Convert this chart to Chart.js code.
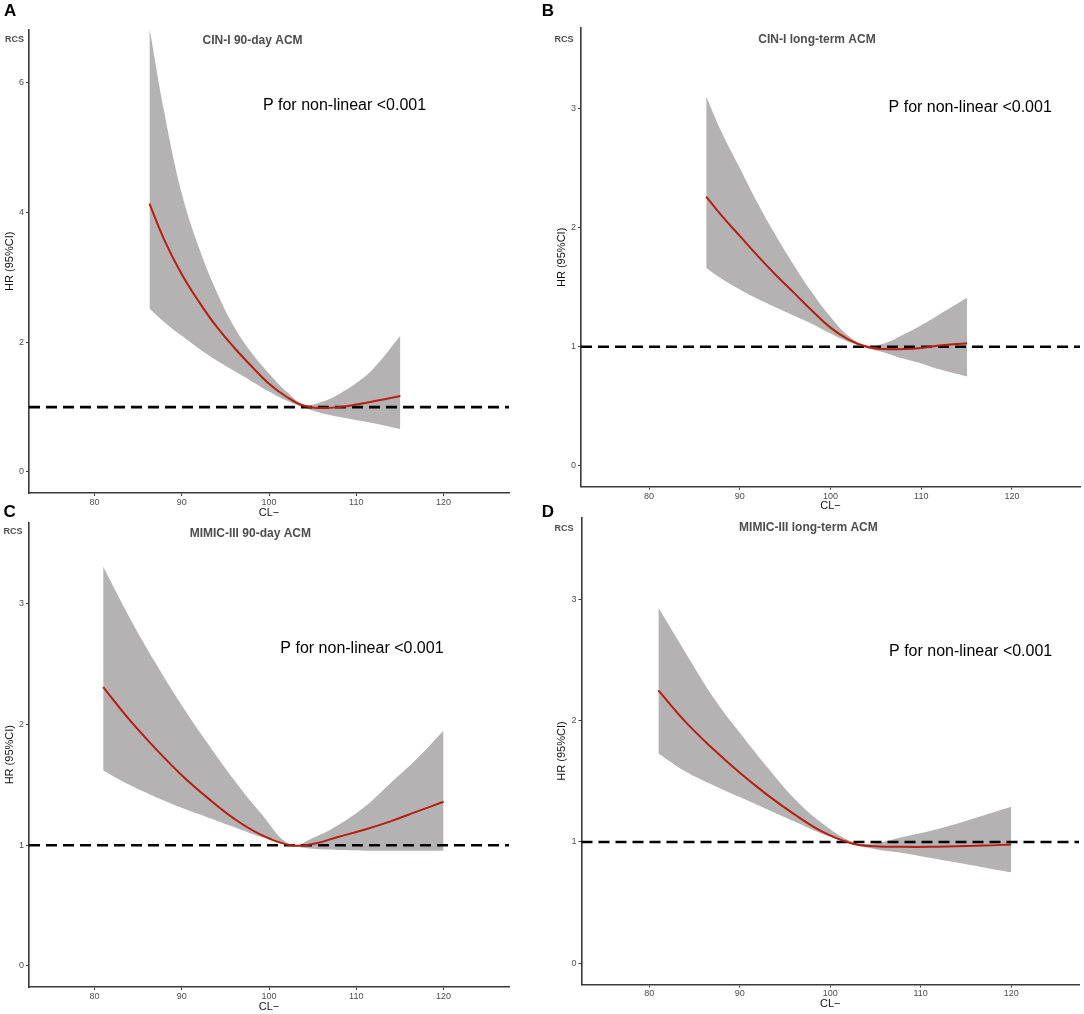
<!DOCTYPE html>
<html>
<head>
<meta charset="utf-8">
<script src="https://cdn.jsdelivr.net/npm/chart.js@4.4.1/dist/chart.umd.min.js"></script>
<style>
  html, body { margin: 0; padding: 0; background: #fff; }
  #wrap { position: relative; width: 1084px; height: 1014px; overflow: hidden; }
  canvas { position: absolute; }
</style>
</head>
<body>
<div id="wrap">
  <canvas id="cA" width="540" height="520" style="left:0;top:0"></canvas>
  <canvas id="cB" width="544" height="514" style="left:540px;top:0"></canvas>
  <canvas id="cC" width="540" height="514" style="left:0;top:500px"></canvas>
  <canvas id="cD" width="544" height="514" style="left:540px;top:500px"></canvas>
</div>
<script>
// ---- data ----
const xTicks = [80, 90, 100, 110, 120];
const yTicksA = [0, 2, 4, 6];
const yTicksOther = [0, 1, 2, 3];
const refHR = 1;

const panelLetters = ['A', 'B', 'C', 'D'];
const panelTitles = ['CIN-I 90-day ACM', 'CIN-I long-term ACM', 'MIMIC-III 90-day ACM', 'MIMIC-III long-term ACM'];
const pText = 'P for non-linear <0.001';

// CIN-I cohort (panels A, B)
const cinX       = [86.3, 88, 90, 92, 94, 96, 98, 100, 102, 104, 106, 108, 110, 112, 115.05];
const cin90Fit   = [4.14, 3.58, 3.05, 2.62, 2.24, 1.92, 1.63, 1.36, 1.16, 1.02, 0.985, 1.00, 1.04, 1.09, 1.17];
const cin90Lo    = [2.52, 2.31, 2.10, 1.90, 1.72, 1.56, 1.40, 1.24, 1.10, 0.99, 0.91, 0.85, 0.80, 0.75, 0.66];
const cin90Hi    = [6.85, 5.55, 4.30, 3.45, 2.78, 2.24, 1.84, 1.52, 1.24, 1.04, 1.08, 1.20, 1.37, 1.60, 2.10];
const cinLongFit = [2.26, 2.10, 1.93, 1.76, 1.60, 1.45, 1.30, 1.16, 1.06, 1.00, 0.98, 0.98, 0.99, 1.01, 1.03];
const cinLongLo  = [1.66, 1.57, 1.48, 1.40, 1.33, 1.26, 1.19, 1.11, 1.04, 0.99, 0.95, 0.90, 0.86, 0.81, 0.75];
const cinLongHi  = [3.10, 2.80, 2.50, 2.20, 1.93, 1.68, 1.45, 1.25, 1.09, 1.01, 1.03, 1.10, 1.18, 1.27, 1.41];

// MIMIC-III cohort (panels C, D)
const mimicX       = [81, 84, 87, 90, 93, 96, 99, 102.5, 105, 108, 111, 114, 117, 120];
const mimic90Fit   = [2.31, 2.04, 1.80, 1.58, 1.39, 1.22, 1.09, 1.00, 1.01, 1.07, 1.13, 1.20, 1.28, 1.36];
const mimic90Lo    = [1.62, 1.50, 1.40, 1.31, 1.23, 1.15, 1.07, 1.00, 0.97, 0.96, 0.955, 0.955, 0.955, 0.955];
const mimic90Hi    = [3.31, 2.89, 2.51, 2.16, 1.84, 1.54, 1.27, 1.00, 1.06, 1.17, 1.32, 1.52, 1.72, 1.95];
const mimicLongFit = [2.25, 1.99, 1.77, 1.57, 1.39, 1.23, 1.09, 0.985, 0.965, 0.96, 0.96, 0.965, 0.97, 0.98];
const mimicLongLo  = [1.73, 1.58, 1.47, 1.37, 1.27, 1.17, 1.07, 0.985, 0.94, 0.91, 0.87, 0.83, 0.79, 0.75];
const mimicLongHi  = [2.93, 2.56, 2.20, 1.90, 1.62, 1.36, 1.16, 1.00, 0.99, 1.04, 1.09, 1.15, 1.22, 1.29];

// ---- styling ----
const FONT = '"Liberation Sans", Arial, Helvetica, sans-serif';
const axisColor = '#3a3a3a';
const bandColor = '#b5b2b3';
const fitColor = '#b61e0e';
const X_MIN = 72.5, X_MAX = 127.5;

const pts = (xs, ys) => xs.map((x, i) => ({ x, y: ys[i] }));

const panelText = {
  id: 'panelText',
  afterDraw(chart, args, o) {
    const ctx = chart.ctx;
    const { x, y } = chart.scales;
    ctx.save();
    ctx.textBaseline = 'middle';
    ctx.textAlign = 'left';
    ctx.fillStyle = '#000';
    ctx.font = `bold 17px ${FONT}`;
    ctx.fillText(o.letter, o.letterPos[0], o.letterPos[1]);
    ctx.fillStyle = '#4d4d4d';
    ctx.font = `bold 9px ${FONT}`;
    ctx.fillText('RCS', o.rcsPos[0], o.rcsPos[1]);
    ctx.font = `bold 12px ${FONT}`;
    ctx.textAlign = 'center';
    ctx.fillText(o.title, o.titlePos[0], o.titlePos[1]);
    ctx.fillStyle = '#000';
    ctx.font = `16px ${FONT}`;
    ctx.textAlign = 'left';
    ctx.fillText(pText, x.getPixelForValue(o.pAt[0]), y.getPixelForValue(o.pAt[1]));
    ctx.restore();
  }
};

function makePanel(id, idx, xs, fit, lo, hi, L) {
  new Chart(document.getElementById(id), {
    type: 'line',
    data: {
      datasets: [
        { data: pts(xs, hi), borderColor: 'rgba(0,0,0,0)', borderWidth: 0, pointRadius: 0,
          backgroundColor: bandColor, fill: '+1', tension: 0.4, order: 4 },
        { data: pts(xs, lo), borderColor: 'rgba(0,0,0,0)', borderWidth: 0, pointRadius: 0,
          fill: false, tension: 0.4, order: 3 },
        { data: [{ x: X_MIN, y: refHR }, { x: X_MAX, y: refHR }], borderColor: '#000', borderWidth: 2.6,
          borderDash: [11, 6], pointRadius: 0, fill: false, order: 2 },
        { data: pts(xs, fit), borderColor: fitColor, borderWidth: 2, pointRadius: 0,
          fill: false, tension: 0.4, order: 1 }
      ]
    },
    options: {
      responsive: false,
      animation: false,
      events: [],
      layout: { padding: { top: L.top, right: L.right, left: 0, bottom: 0 } },
      plugins: {
        legend: { display: false },
        tooltip: { enabled: false },
        panelText: {
          letter: panelLetters[idx], title: panelTitles[idx],
          letterPos: L.letter, rcsPos: L.rcs, titlePos: L.title, pAt: L.pAt
        }
      },
      scales: {
        x: {
          type: 'linear', min: X_MIN, max: X_MAX,
          afterBuildTicks: s => { s.ticks = xTicks.map(v => ({ value: v })); },
          afterFit: s => { s.height = L.xh; },
          grid: { display: true, drawOnChartArea: false, drawTicks: true, tickLength: 3, color: axisColor, lineWidth: 1 },
          border: { display: true, color: axisColor, width: 1.6 },
          ticks: { color: '#4d4d4d', font: { family: FONT, size: 9 }, padding: 1, maxRotation: 0 },
          title: { display: true, text: 'CL−', color: '#111', font: { family: FONT, size: 11 },
                   padding: { top: 0, bottom: L.xtp } }
        },
        y: {
          type: 'linear', min: L.ymin, max: L.ymax,
          afterBuildTicks: s => { s.ticks = L.yTicks.map(v => ({ value: v })); },
          afterFit: s => { s.width = L.yw; },
          grid: { display: true, drawOnChartArea: false, drawTicks: true, tickLength: 3, color: axisColor, lineWidth: 1 },
          border: { display: true, color: axisColor, width: 1.6 },
          ticks: { color: '#4d4d4d', font: { family: FONT, size: 9 }, padding: 2 },
          title: { display: true, text: 'HR (95%CI)', color: '#111', font: { family: FONT, size: 11 },
                   padding: { top: L.ytp, bottom: 0 } }
        }
      }
    },
    plugins: [panelText]
  });
}

makePanel('cA', 0, cinX, cin90Fit, cin90Lo, cin90Hi, {
  top: 29.5, right: 31, yw: 29, xh: 27, xtp: 0, ytp: 3.7,
  ymin: -0.325, ymax: 6.825, yTicks: yTicksA,
  letter: [4, 11], rcs: [5, 40], title: [252.6, 40.7], pAt: [99.3, 5.645]
});
makePanel('cB', 1, cinX, cinLongFit, cinLongLo, cinLongHi, {
  top: 28, right: 4, yw: 41, xh: 27.3, xtp: 1.4, ytp: 14.9,
  ymin: -0.175, ymax: 3.675, yTicks: yTicksOther,
  letter: [1.7, 11], rcs: [14.6, 40], title: [277, 40], pAt: [106.4, 3.01]
});
makePanel('cC', 2, mimicX, mimic90Fit, mimic90Lo, mimic90Hi, {
  top: 22.4, right: 31, yw: 29, xh: 27, xtp: 0.7, ytp: 3,
  ymin: -0.175, ymax: 3.675, yTicks: yTicksOther,
  letter: [3.4, 12.5], rcs: [3.4, 31.7], title: [250.3, 33.3], pAt: [101.3, 2.63]
});
makePanel('cD', 3, mimicX, mimicLongFit, mimicLongLo, mimicLongHi, {
  top: 17.5, right: 5, yw: 41.5, xh: 29.5, xtp: 3.1, ytp: 14.9,
  ymin: -0.175, ymax: 3.675, yTicks: yTicksOther,
  letter: [1.7, 12.5], rcs: [14.6, 29], title: [268.4, 27.3], pAt: [106.5, 2.57]
});
</script>
</body>
</html>
